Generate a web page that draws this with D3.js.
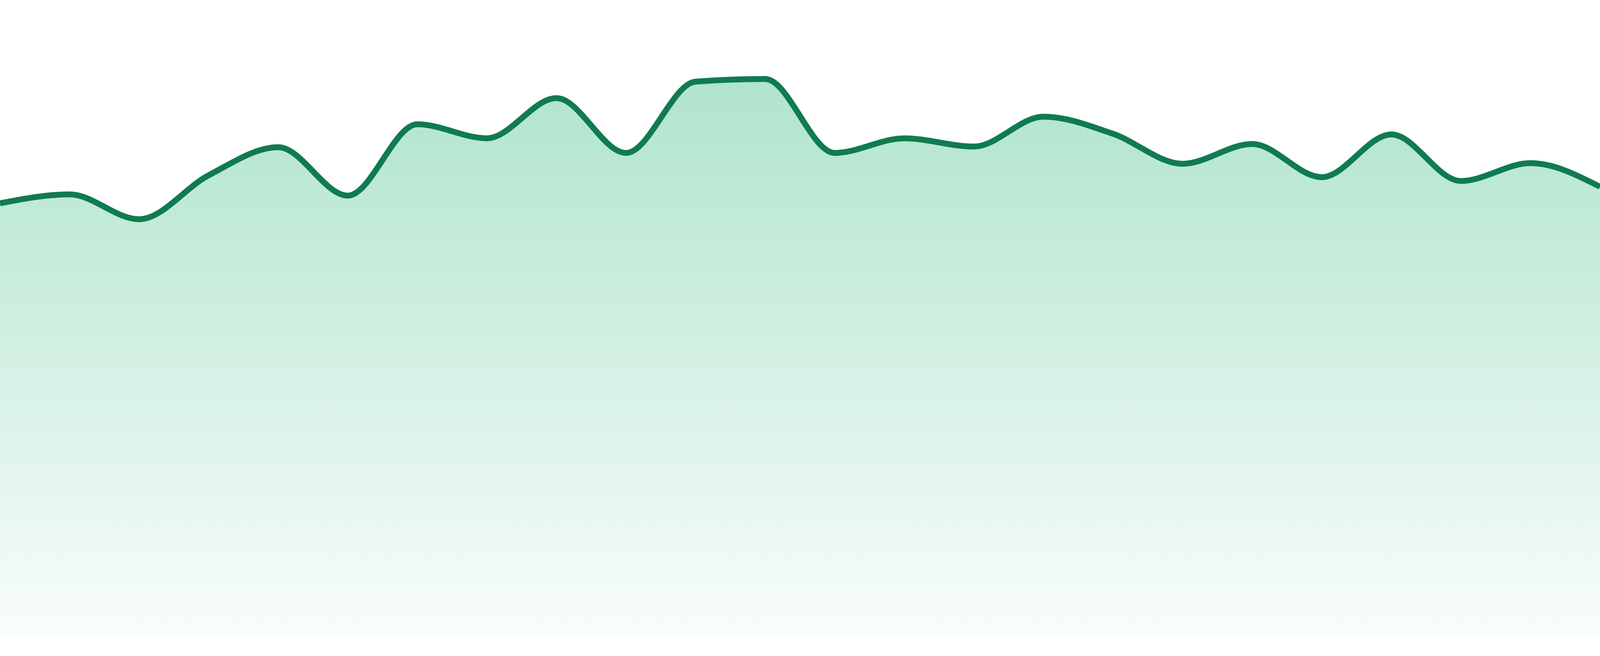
<!DOCTYPE html>
<html>
<head>
<meta charset="utf-8">
<script src="https://cdn.jsdelivr.net/npm/d3@7"></script>
<style>
  html, body { margin: 0; padding: 0; background: #fff; overflow: hidden; }
  svg { display: block; }
</style>
</head>
<body>
<div id="chart"></div>
<script>
// hourly values, 24 points
const hours = ["00:00", "01:00", "02:00", "03:00", "04:00", "05:00", "06:00", "07:00",
               "08:00", "09:00", "10:00", "11:00", "12:00", "13:00", "14:00", "15:00",
               "16:00", "17:00", "18:00", "19:00", "20:00", "21:00", "22:00", "23:00"];
const values = [68.1, 69.5, 65.6, 72.5, 76.9, 69.3, 80.5, 78.3,
                84.6, 76.0, 87.2, 87.6, 76.0, 78.3, 77.0, 81.7,
                79.0, 74.3, 77.4, 72.2, 78.9, 71.6, 74.4, 70.7];
const yDomain = [0, 100];

// size from the window (the svg should fill it)
const width = window.innerWidth || 4800;
const height = window.innerHeight || 1680;
const marginBottom = height * 48 / 1680;

let lineColor = "#107b50";
let fillTop = "#afe4cd";
let fillBottom = "#f9fdfb";
let lineWidth = 15;

const data = hours.map((h, i) => ({hour: h, value: values[i]}));

const svg = d3.select("#chart")
  .append("svg")
  .attr("width", width)
  .attr("height", height);

const x = d3.scalePoint()
  .domain(hours)
  .range([0, width]);

const y = d3.scaleLinear()
  .domain(yDomain)
  .range([height - marginBottom, 0]);

const grad = svg.append("defs")
  .append("linearGradient")
  .attr("id", "areaFill")
  .attr("gradientUnits", "userSpaceOnUse")
  .attr("x1", 0).attr("x2", 0)
  .attr("y1", y(d3.max(values)))
  .attr("y2", y(0));
grad.append("stop").attr("offset", "0%").attr("stop-color", fillTop);
grad.append("stop").attr("offset", "100%").attr("stop-color", fillBottom);

const area = d3.area()
  .curve(d3.curveMonotoneX)
  .x(d => x(d.hour))
  .y0(y(0))
  .y1(d => y(d.value));

const line = d3.line()
  .curve(d3.curveMonotoneX)
  .x(d => x(d.hour))
  .y(d => y(d.value));

svg.append("path")
  .datum(data)
  .attr("fill", "url(#areaFill)")
  .attr("d", area);

svg.append("path")
  .datum(data)
  .attr("fill", "none")
  .attr("stroke", lineColor)
  .attr("stroke-width", lineWidth)
  .attr("stroke-linejoin", "round")
  .attr("d", line);
</script>
</body>
</html>
